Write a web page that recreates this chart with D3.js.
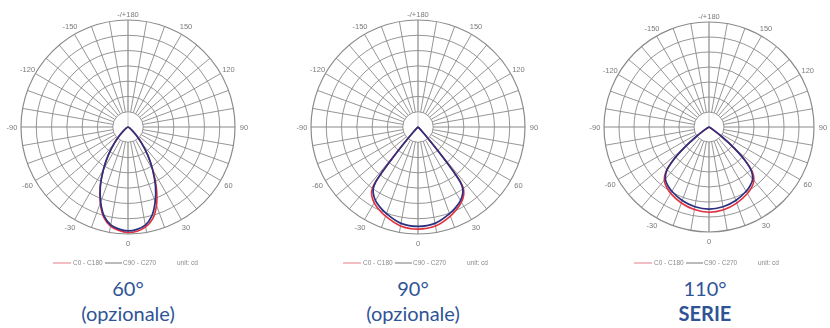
<!DOCTYPE html>
<html lang="it">
<head>
<meta charset="utf-8">
<title>Diagrammi polari</title>
<script src="https://d3js.org/d3.v7.min.js"></script>
<style>
  body { margin: 0; background: #fff; }
  svg { display: block; }
  .grigio { filter: grayscale(1); }
</style>
</head>
<body>
<svg id="polari" width="830" height="328"></svg>
<script>
// angoli gamma (gradi, 0 = verso il basso) e intensita' in cd
const gamma60 = [0, 5, 10, 15, 20, 25, 30, 35, 40, 45, 50, 55, 60, 70, 90];
const c0_60   = [690, 684, 664, 622, 545, 440, 326, 226, 140, 75, 35, 14, 5, 0, 0];
const c180_60 = [690, 680, 658, 612, 530, 430, 322, 224, 140, 75, 35, 14, 5, 0, 0];
const c90_60  = [680, 672, 652, 602, 520, 425, 320, 225, 140, 75, 35, 14, 5, 0, 0];
const c270_60 = [680, 671, 650, 603, 523, 428, 321, 225, 140, 75, 35, 14, 5, 0, 0];

const gamma90 = [0, 10, 20, 25, 30, 34, 36, 37.5, 38.5, 39.5, 40.5, 42, 45, 50, 60, 90];
const c0_90   = [668, 658, 620, 596, 568, 535, 508, 465, 378, 255, 145, 62, 16, 3, 0, 0];
const c180_90 = [668, 657, 621, 599, 573, 541, 515, 471, 382, 258, 147, 64, 16, 3, 0, 0];
const c90_90  = [650, 640, 603, 582, 556, 523, 498, 456, 372, 252, 142, 60, 15, 3, 0, 0];
const c270_90 = [650, 640, 603, 582, 556, 523, 498, 456, 372, 252, 142, 60, 15, 3, 0, 0];

const gamma110 = [0, 10, 20, 30, 35, 40, 44, 47, 50, 53, 56, 60, 70, 90];
const c0_110   = [568, 560, 540, 512, 494, 466, 416, 336, 222, 112, 42, 10, 0, 0];
const c180_110 = [568, 559, 539, 511, 492, 464, 414, 334, 220, 111, 41, 10, 0, 0];
const c90_110  = [548, 540, 522, 495, 478, 453, 406, 330, 217, 110, 40, 10, 0, 0];
const c270_110 = [548, 540, 522, 495, 478, 453, 406, 330, 217, 110, 40, 10, 0, 0];

// etichette angolari (destra e sinistra)
const tickAngles = [180, 150, 120, 90, 60, 30, 0];
const tickRight  = ["-/+180", "150", "120", "90", "60", "30", "0"];
const tickLeft   = ["", "-150", "-120", "-90", "-60", "-30", ""];

const ringValues = [100, 200, 300, 400, 500, 600, 700];

const titoli = ["60°", "90°", "110°"];
const sottotitoli = ["(opzionale)", "(opzionale)", "SERIE"];

const grafici = [
  { cx: 128, cy: 127, R: 107, tx: 128, gamma: gamma60, red: [c0_60, c180_60], blue: [c90_60, c270_60] },
  { cx: 418, cy: 127, R: 107, tx: 413, gamma: gamma90, red: [c0_90, c180_90], blue: [c90_90, c270_90] },
  { cx: 709, cy: 127, R: 105, tx: 705, gamma: gamma110, red: [c0_110, c180_110], blue: [c90_110, c270_110] }
];

const svg = d3.select("#polari");
const rosso = "#e0323e", blu = "#2b3180", griglia = "#8a8a8a";

grafici.forEach(function (g, i) {
  const r = d3.scaleLinear().domain([0, 700]).range([0, g.R]);
  const gr = svg.append("g").attr("transform", "translate(" + g.cx + "," + g.cy + ")");

  // cerchi
  gr.selectAll(".ring").data(ringValues).enter()
    .append("circle")
    .attr("r", d => r(d))
    .attr("fill", "none")
    .attr("stroke", griglia)
    .attr("stroke-width", d => d == 700 ? 1.2 : 0.9);

  // raggi ogni 10 gradi
  gr.selectAll(".spoke").data(d3.range(0, 360, 10)).enter()
    .append("line")
    .attr("x1", d => r(100) * Math.sin(d * Math.PI / 180))
    .attr("y1", d => -r(100) * Math.cos(d * Math.PI / 180))
    .attr("x2", d => g.R * Math.sin(d * Math.PI / 180))
    .attr("y2", d => -g.R * Math.cos(d * Math.PI / 180))
    .attr("stroke", griglia)
    .attr("stroke-width", d => d % 90 == 0 ? 1.2 : 0.9);

  gr.append("line").attr("x1", 0).attr("y1", 0).attr("x2", 0).attr("y2", -r(100))
    .attr("stroke", "#b5b5b5").attr("stroke-width", 0.8);

  // etichette
  const lr = g.R + 9;
  const tg = gr.append("g").attr("class", "grigio");
  tickAngles.forEach(function (a, k) {
    const rad = (180 - a) * Math.PI / 180;
    const y = -lr * Math.cos(rad) + (a == 180 ? 3 : 0);
    tg.append("text")
      .attr("x", lr * Math.sin(rad)).attr("y", y)
      .attr("text-anchor", "middle").attr("dominant-baseline", "central")
      .text(tickRight[k]);
    if (tickLeft[k]) {
      tg.append("text")
        .attr("x", -lr * Math.sin(rad)).attr("y", y)
        .attr("text-anchor", "middle").attr("dominant-baseline", "central")
        .text(tickLeft[k]);
    }
  });
  tg.selectAll("text").attr("font-family", "Liberation Sans, Arial, sans-serif")
    .attr("font-size", 7.5).attr("fill", "#7a7a7a");

  // curve: meta' destra = C0 / C90, meta' sinistra = C180 / C270
  const linea = d3.lineRadial()
    .angle(d => d.a)
    .radius(d => r(d.v))
    .curve(d3.curveCatmullRom.alpha(0.5));

  function punti(dx, sx) {
    const pts = [];
    for (let k = g.gamma.length - 1; k >= 0; k--) pts.push({ a: Math.PI + g.gamma[k] * Math.PI / 180, v: sx[k] });
    for (let k = 1; k < g.gamma.length; k++) pts.push({ a: Math.PI - g.gamma[k] * Math.PI / 180, v: dx[k] });
    return pts;
  }

  gr.append("path").attr("d", linea(punti(g.red[0], g.red[1])))
    .attr("fill", "none").attr("stroke", rosso).attr("stroke-width", 1.6);
  gr.append("path").attr("d", linea(punti(g.blue[0], g.blue[1])))
    .attr("fill", "none").attr("stroke", blu).attr("stroke-width", 1.7);

  // legenda
  const lg = svg.append("g").attr("transform", "translate(" + (g.cx - 75) + ",263)");
  lg.append("line").attr("x1", 0).attr("x2", 18).attr("y1", 0).attr("y2", 0)
    .attr("stroke", "#e77a86").attr("stroke-width", 1);
  const lt = lg.append("g").attr("class", "grigio");
  lt.append("text").attr("x", 20).attr("y", 2.3).text("C0 - C180");
  lg.append("line").attr("x1", 52).attr("x2", 69).attr("y1", 0).attr("y2", 0)
    .attr("stroke", "#777").attr("stroke-width", 1);
  lt.append("text").attr("x", 70).attr("y", 2.3).text("C90 - C270");
  lt.append("text").attr("x", 124).attr("y", 2.3).text("unit: cd");
  lt.selectAll("text").attr("font-family", "Liberation Sans, Arial, sans-serif")
    .attr("font-size", 6.5).attr("fill", "#8a8a8a");

  // titoli
  svg.append("text").attr("x", g.tx).attr("y", 296)
    .attr("text-anchor", "middle").attr("font-family", "Lato, sans-serif")
    .attr("font-size", 20).attr("fill", "#2f5496").text(titoli[i]);
  svg.append("text").attr("x", g.tx).attr("y", 321)
    .attr("text-anchor", "middle").attr("font-family", "Lato, sans-serif")
    .attr("font-size", 20).attr("font-weight", i == 2 ? "bold" : "normal")
    .attr("fill", "#2f5496").text(sottotitoli[i]);
});
</script>
</body>
</html>
